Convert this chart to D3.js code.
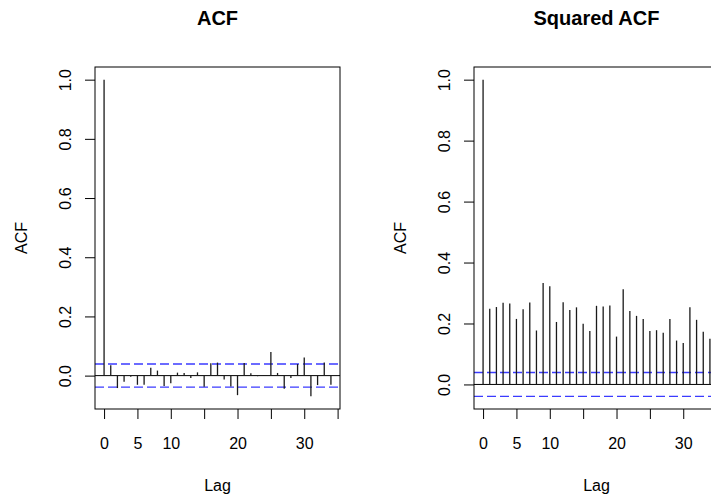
<!DOCTYPE html>
<html>
<head>
<meta charset="utf-8">
<script src="https://cdn.jsdelivr.net/npm/d3@7"></script>
<style>
  body { margin: 0; background: #fff; }
  svg text { font-family: "Liberation Sans", Arial, Helvetica, sans-serif; fill: #000; }
</style>
</head>
<body>
<svg id="chart" width="711" height="502"></svg>
<script>
// lags shown in both panels
const lags = [0, 1, 2, 3, 4, 5, 6, 7, 8, 9, 10, 11, 12, 13, 14, 15, 16, 17,
              18, 19, 20, 21, 22, 23, 24, 25, 26, 27, 28, 29, 30, 31, 32, 33, 34];

// autocorrelation of the series
const acfValues = [1.0, 0.035, -0.042, -0.021, -0.004, -0.031, -0.031, 0.027, 0.017, -0.035,
                   -0.026, 0.010, 0.009, -0.008, 0.011, -0.038, 0.042, 0.044, -0.013, -0.037,
                   -0.066, 0.043, 0.008, -0.002, 0.002, 0.080, 0.009, -0.044, -0.008, 0.039,
                   0.061, -0.070, -0.032, 0.044, -0.031];

// autocorrelation of the squared series
const sqAcfValues = [1.0, 0.248, 0.254, 0.268, 0.266, 0.215, 0.247, 0.269, 0.177, 0.333,
                     0.322, 0.205, 0.270, 0.244, 0.253, 0.199, 0.175, 0.258, 0.256, 0.259,
                     0.157, 0.312, 0.241, 0.225, 0.215, 0.175, 0.178, 0.170, 0.215, 0.144,
                     0.136, 0.253, 0.212, 0.173, 0.150];

// 95% confidence bound
const ciLimit = 0.039;

const xTicks = [0, 5, 10, 15, 20, 25, 30, 35];
const xTickLabels = ["0", "5", "10", "", "20", "", "30", ""];
const yTicks = [0, 0.2, 0.4, 0.6, 0.8, 1.0];
const yTickLabels = ["0.0", "0.2", "0.4", "0.6", "0.8", "1.0"];
const titles = ["ACF", "Squared ACF"];

const svg = d3.select("#chart");

const boxWidth = 245;
const boxTop = 67;
const boxBottom = 409;

const panels = [
    {title: titles[0], values: acfValues, left: 95},
    {title: titles[1], values: sqAcfValues, left: 474}
];

panels.forEach(p => {
    const g = svg.append("g");

    // R style axis ranges: data range widened by 4% each side
    const xPad = 0.04 * (d3.max(lags) - d3.min(lags));
    const x = d3.scaleLinear()
        .domain([d3.min(lags) - xPad, d3.max(lags) + xPad])
        .range([p.left, p.left + boxWidth]);

    const lo = Math.min(d3.min(p.values), -ciLimit);
    const hi = Math.max(d3.max(p.values), ciLimit);
    const yPad = 0.04 * (hi - lo);
    const y = d3.scaleLinear()
        .domain([lo - yPad, hi + yPad])
        .range([boxBottom, boxTop]);

    // zero line
    g.append("line")
        .attr("x1", p.left).attr("x2", p.left + boxWidth)
        .attr("y1", y(0)).attr("y2", y(0))
        .attr("stroke", "#000").attr("stroke-width", 1);

    // confidence bounds
    g.selectAll("line.ci")
        .data([ciLimit, -ciLimit])
        .enter().append("line")
        .attr("class", "ci")
        .attr("x1", p.left).attr("x2", p.left + boxWidth)
        .attr("y1", d => y(d)).attr("y2", d => y(d))
        .attr("stroke", "#3b3bff")
        .attr("stroke-width", 1.4)
        .attr("stroke-dasharray", "9,4");

    // spikes
    g.selectAll("line.bar")
        .data(lags)
        .enter().append("line")
        .attr("class", "bar")
        .attr("x1", d => x(d)).attr("x2", d => x(d))
        .attr("y1", y(0))
        .attr("y2", (d, i) => y(p.values[i]))
        .attr("stroke", "#1a1a1a")
        .attr("stroke-width", 1.3);

    // x axis
    const xAxis = g.append("g")
        .attr("transform", `translate(0,${boxBottom})`)
        .call(d3.axisBottom(x)
            .tickValues(xTicks)
            .tickFormat((d, i) => xTickLabels[i])
            .tickSize(10)
            .tickSizeOuter(0));
    xAxis.select(".domain").remove();
    xAxis.selectAll("line").attr("stroke", "#000");
    xAxis.selectAll("text")
        .attr("y", 40).attr("dy", null)
        .style("font-size", "16px");

    // y axis
    const yAxis = g.append("g")
        .attr("transform", `translate(${p.left},0)`)
        .call(d3.axisLeft(y)
            .tickValues(yTicks)
            .tickFormat((d, i) => yTickLabels[i])
            .tickSize(10)
            .tickSizeOuter(0));
    yAxis.select(".domain").remove();
    yAxis.selectAll("line").attr("stroke", "#000");
    yAxis.selectAll("text")
        .attr("x", null).attr("dy", null)
        .attr("text-anchor", "middle")
        .attr("transform", "translate(-24,0) rotate(-90)")
        .style("font-size", "16px");

    // plot box
    g.append("rect")
        .attr("x", p.left).attr("y", boxTop)
        .attr("width", boxWidth).attr("height", boxBottom - boxTop)
        .attr("fill", "none")
        .attr("stroke", "#000")
        .attr("stroke-width", 1);

    // title
    g.append("text")
        .attr("x", p.left + boxWidth / 2)
        .attr("y", 25)
        .attr("text-anchor", "middle")
        .style("font-size", "20px")
        .style("font-weight", "bold")
        .text(p.title);

    // axis titles
    g.append("text")
        .attr("x", p.left + boxWidth / 2)
        .attr("y", 491)
        .attr("text-anchor", "middle")
        .style("font-size", "16px")
        .text("Lag");

    g.append("text")
        .attr("transform", `translate(${p.left - 68},${(boxTop + boxBottom) / 2}) rotate(-90)`)
        .attr("text-anchor", "middle")
        .style("font-size", "16px")
        .text("ACF");
});
</script>
</body>
</html>
